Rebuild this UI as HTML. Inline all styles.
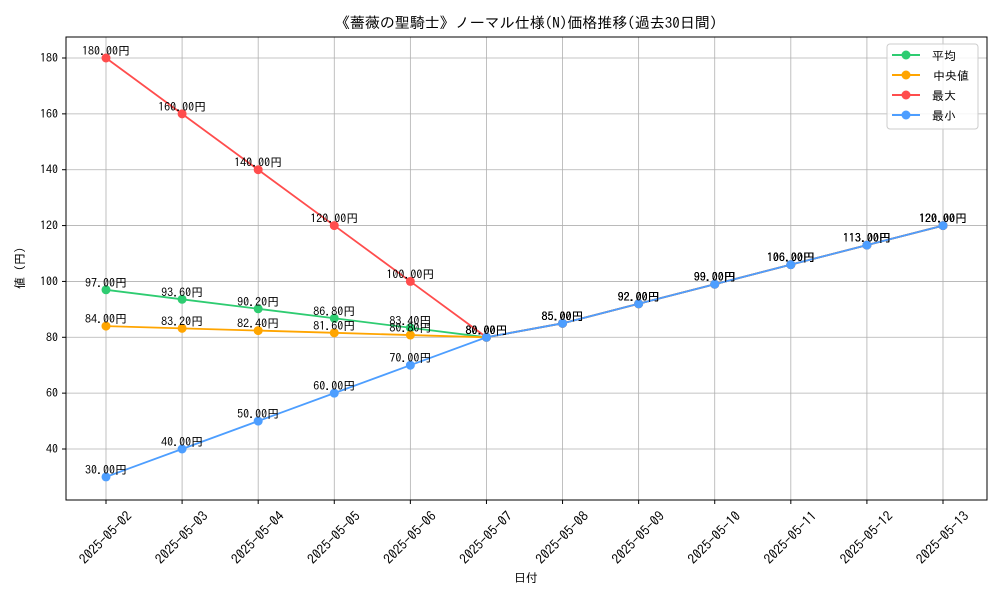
<!DOCTYPE html>
<html><head><meta charset="utf-8"><style>
body{margin:0;background:#fff}
svg text{font-family:"IPAGothic","Liberation Sans","Noto Sans CJK JP",sans-serif}
</style></head><body>
<svg id="chart" width="1000" height="600" xmlns="http://www.w3.org/2000/svg">
<rect width="1000" height="600" fill="#fff"/>
<text x="526" y="28" font-size="15" text-anchor="middle">《薔薇の聖騎士》ノーマル仕様(N)価格推移(過去30日間)</text>
<g id="grid"></g>
<g id="series"></g>
<rect x="66" y="37" width="921" height="463" fill="none" stroke="#000" stroke-width="1"/>
<g id="axes"></g>
<text x="526" y="582" font-size="12" text-anchor="middle">日付</text>
<text transform="translate(24,268) rotate(-90)" font-size="12" text-anchor="middle">値 (円)</text>
<g>
<rect x="887" y="44" width="91" height="85" rx="3" fill="#fff" fill-opacity="0.85" stroke="#ccc"/>
<g><line x1="892" y1="55" x2="920" y2="55" stroke="#2ecc71" stroke-width="2"/><circle cx="906" cy="55" r="4.5" fill="#2ecc71"/><text x="932" y="60" font-size="12">平均</text></g>
<g><line x1="892" y1="75" x2="920" y2="75" stroke="#ffa500" stroke-width="2"/><circle cx="906" cy="75" r="4.5" fill="#ffa500"/><text x="933" y="80" font-size="12">中央値</text></g>
<g><line x1="892" y1="95" x2="920" y2="95" stroke="#ff4d4d" stroke-width="2"/><circle cx="906" cy="95" r="4.5" fill="#ff4d4d"/><text x="932" y="100" font-size="12">最大</text></g>
<g><line x1="892" y1="115" x2="920" y2="115" stroke="#4d9eff" stroke-width="2"/><circle cx="906" cy="115" r="4.5" fill="#4d9eff"/><text x="932" y="120" font-size="12">最小</text></g>
</g>
</svg>
<script>
const dates=["2025-05-02","2025-05-03","2025-05-04","2025-05-05","2025-05-06","2025-05-07","2025-05-08","2025-05-09","2025-05-10","2025-05-11","2025-05-12","2025-05-13"];
const avgVals=[97,93.6,90.2,86.8,83.4,80,85,92,99,106,113,120];
const medianVals=[84,83.2,82.4,81.6,80.8,80,85,92,99,106,113,120];
const maxVals=[180,160,140,120,100,80,85,92,99,106,113,120];
const minVals=[30,40,50,60,70,80,85,92,99,106,113,120];
const yTicks=[40,60,80,100,120,140,160,180];

const NS="http://www.w3.org/2000/svg";
function xS(i){return 106+i*(943-106)/11;}
function yS(v){return 58+(180-v)*(391/140);}
function mk(tag,attrs,parent){const e=document.createElementNS(NS,tag);for(const k in attrs)e.setAttribute(k,attrs[k]);parent.appendChild(e);return e;}
const grid=document.getElementById('grid'),axes=document.getElementById('axes'),ser=document.getElementById('series');
dates.forEach((d,i)=>{
  const x=xS(i);
  const g=mk('line',{x1:x,y1:37,x2:x,y2:500,stroke:'#b0b0b0','stroke-width':0.8},grid);
  
  
  mk('line',{x1:x,y1:500,x2:x,y2:504,stroke:'#000'},axes);
  const t=mk('text',{x:x,y:542,'font-size':13.5,'text-anchor':'middle',transform:`rotate(-45 ${x} 538)`},axes);
  
  
  t.textContent=d;
});
yTicks.forEach(v=>{
  const y=yS(v);
  const g=mk('line',{x1:66,y1:y,x2:987,y2:y,stroke:'#b0b0b0','stroke-width':0.8},grid);
  
  
  mk('line',{x1:62,y1:y,x2:66,y2:y,stroke:'#000'},axes);
  const t=mk('text',{x:58,y:y+4,'font-size':12,'text-anchor':'end'},axes);
  
  
  t.textContent=v;
});
const seriesList=[["avg",avgVals,"#2ecc71"],["median",medianVals,"#ffa500"],["max",maxVals,"#ff4d4d"],["min",minVals,"#4d9eff"]];
seriesList.forEach(([name,vals,col])=>{
  const g=mk('g',{},ser);
  
  
  const pl=mk('polyline',{points:vals.map((v,i)=>xS(i)+','+yS(v)).join(' '),fill:'none',stroke:col,'stroke-width':1.8},g);
  
  
  vals.forEach((v,i)=>{
    const c=mk('circle',{cx:xS(i),cy:yS(v),r:4.5,fill:col},g);
    
    
    const t=mk('text',{x:xS(i),y:yS(v)-3,'font-size':12,'text-anchor':'middle',fill:'#000'},g);
    
    
    t.textContent=v.toFixed(2)+'円';
  });
});
</script>
</body></html>
